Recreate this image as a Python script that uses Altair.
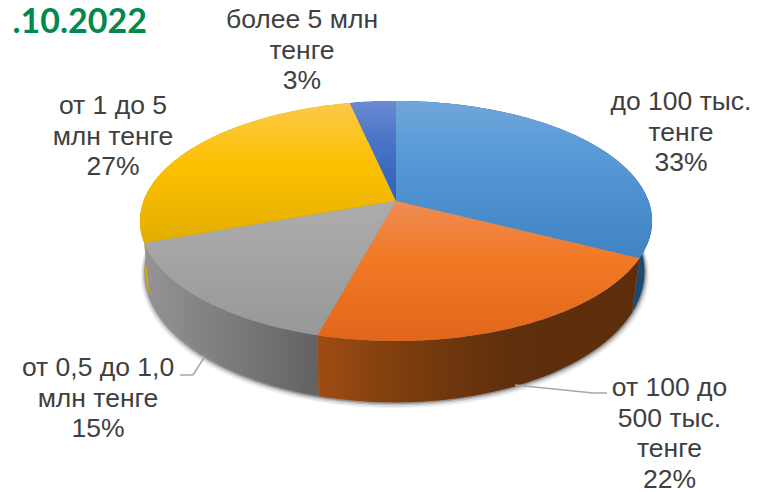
import math
import altair as alt

categories = ["до 100 тыс. тенге", "от 100 до 500 тыс. тенге", "от 0,5 до 1,0 млн тенге",
              "от 1 до 5 млн тенге", "более 5 млн тенге"]
shares = [32.5, 21.7, 15.3, 27.1, 3.4]
label_lines = [
    "до 100 тыс.\nтенге\n33%",
    "от 100 до\n500 тыс.\nтенге\n22%",
    "от 0,5 до 1,0\nмлн тенге\n15%",
    "от 1 до 5\nмлн тенге\n27%",
    "более 5 млн\nтенге\n3%",
]
label_anchor = [(681, 110), (669.5, 396), (98, 376), (113, 114), (302, 28)]

top_colors = [
    [("#72a6d9", 0), ("#5a9bd8", .3), ("#3f83c4", 1)],
    [("#ee8d55", 0), ("#f17a26", .4), ("#e2661a", 1)],
    [("#acacac", 0), ("#a5a5a5", .4), ("#979797", 1)],
    [("#fdc948", 0), ("#fcc000", .45), ("#e1ae00", 1)],
    [("#6a8bd2", 0), ("#4a74c6", .4), ("#2f5fb8", 1)],
]
wall_colors = [
    [("#1a3f60", 0), ("#1e4a70", 1)],
    [("#a04c12", 0), ("#7c3d0e", .27), ("#5f2f0c", .6), ("#5e2e0c", 1)],
    [("#949494", 0), ("#626262", 1)],
    [("#d8a900", 0), ("#e0b000", 1)],
    [("#2a4f96", 0), ("#2a4f96", 1)],
]

CX, CY, R, H, K = 396, 201, 252.5, 116.67, 1 / 6
BCX, BCY, BR, BH = 395, 250, 246, 127


def pt(deg, cx=CX, cy=CY, r=R, h=H):
    a = math.radians(deg)
    u, v = math.sin(a), -math.cos(a)
    d = 1 - K * v
    return [cx + r * u / d, cy + h * v / d]


def arc(a0, a1, **kw):
    n = max(3, int(abs(a1 - a0)))
    return [pt(a0 + (a1 - a0) * i / n, **kw) for i in range(n + 1)]


def feature(ring):
    ring = ring + [ring[0]]
    return {"type": "Feature", "properties": {},
            "geometry": {"type": "Polygon", "coordinates": [ring]}}


def grad(stops, horizontal):
    return alt.LinearGradient(
        gradient="linear",
        x1=0, y1=0,
        x2=1 if horizontal else 0,
        y2=0 if horizontal else 1,
        stops=[alt.GradientStop(color=c, offset=o) for c, o in stops],
    )


PROJ = dict(type="identity", scale=1, translate=[-8, -8])


def shape(ring, **mark):
    return alt.Chart(alt.InlineData(values=feature(ring))).mark_geoshape(**mark).project(**PROJ)


total = sum(shares)
edges = [0.0]
for s in shares:
    edges.append(edges[-1] + s / total * 360)

layers = []
# soft shadow under the base
for grow, op in [(6, .05), (4.5, .08), (3, .13), (1.5, .25)]:
    layers.append(shape(arc(0, 360, cx=BCX, cy=BCY + grow * .5, r=BR + grow * .8, h=BH + grow * .4),
                        fill="#000000", opacity=op))
# side walls, back to front
for i in [4, 3, 0, 2, 1]:
    a0, a1 = edges[i], edges[i + 1]
    ring = arc(a0, a1) + arc(a1, a0, cx=BCX, cy=BCY, r=BR, h=BH)
    layers.append(shape(ring, fill=grad(wall_colors[i], True)))
# top faces
for i in range(5):
    ring = [[CX, CY]] + arc(edges[i], edges[i + 1])
    layers.append(shape(ring, fill=grad(top_colors[i], False)))

# leader lines
leaders = [
    (180, 375, 193, 375), (193, 375, 205, 356),
    (515, 385, 593, 393), (593, 393, 607, 393),
]
for x0, y0, x1, y1 in leaders:
    layers.append(
        alt.Chart(alt.InlineData(values=[{"a": 1}])).mark_rule(color="#a6a6a6", strokeWidth=1.5).encode(
            x=alt.value(x0 - 8), x2=alt.value(x1 - 8), y=alt.value(y0 - 8), y2=alt.value(y1 - 8))
    )

# data labels
for text, (x, y) in zip(label_lines, label_anchor):
    layers.append(
        alt.Chart(alt.InlineData(values=[{"t": text}])).mark_text(
            font="Liberation Sans", fontSize=26.5, color="#404040", align="center",
            baseline="alphabetic", lineBreak="\n", lineHeight=30.7,
        ).encode(text="t:N", x=alt.value(x - 8), y=alt.value(y - 8))
    )

# heading, cropped in the source picture
layers.append(
    alt.Chart(alt.InlineData(values=[{"t": ".10.2022"}])).mark_text(
        font="Lato", fontWeight="bold", fontSize=34, color="#00894f", align="right", baseline="alphabetic",
    ).encode(text="t:N", x=alt.value(147 - 8), y=alt.value(33 - 8))
)

chart = alt.layer(*layers).properties(
    width=761, height=484, padding=0, autosize=alt.AutoSizeParams(type="none"),
    background="white",
).configure_view(stroke=None)

chart.save("out.html", embed_options={"renderer": "svg", "actions": False})
